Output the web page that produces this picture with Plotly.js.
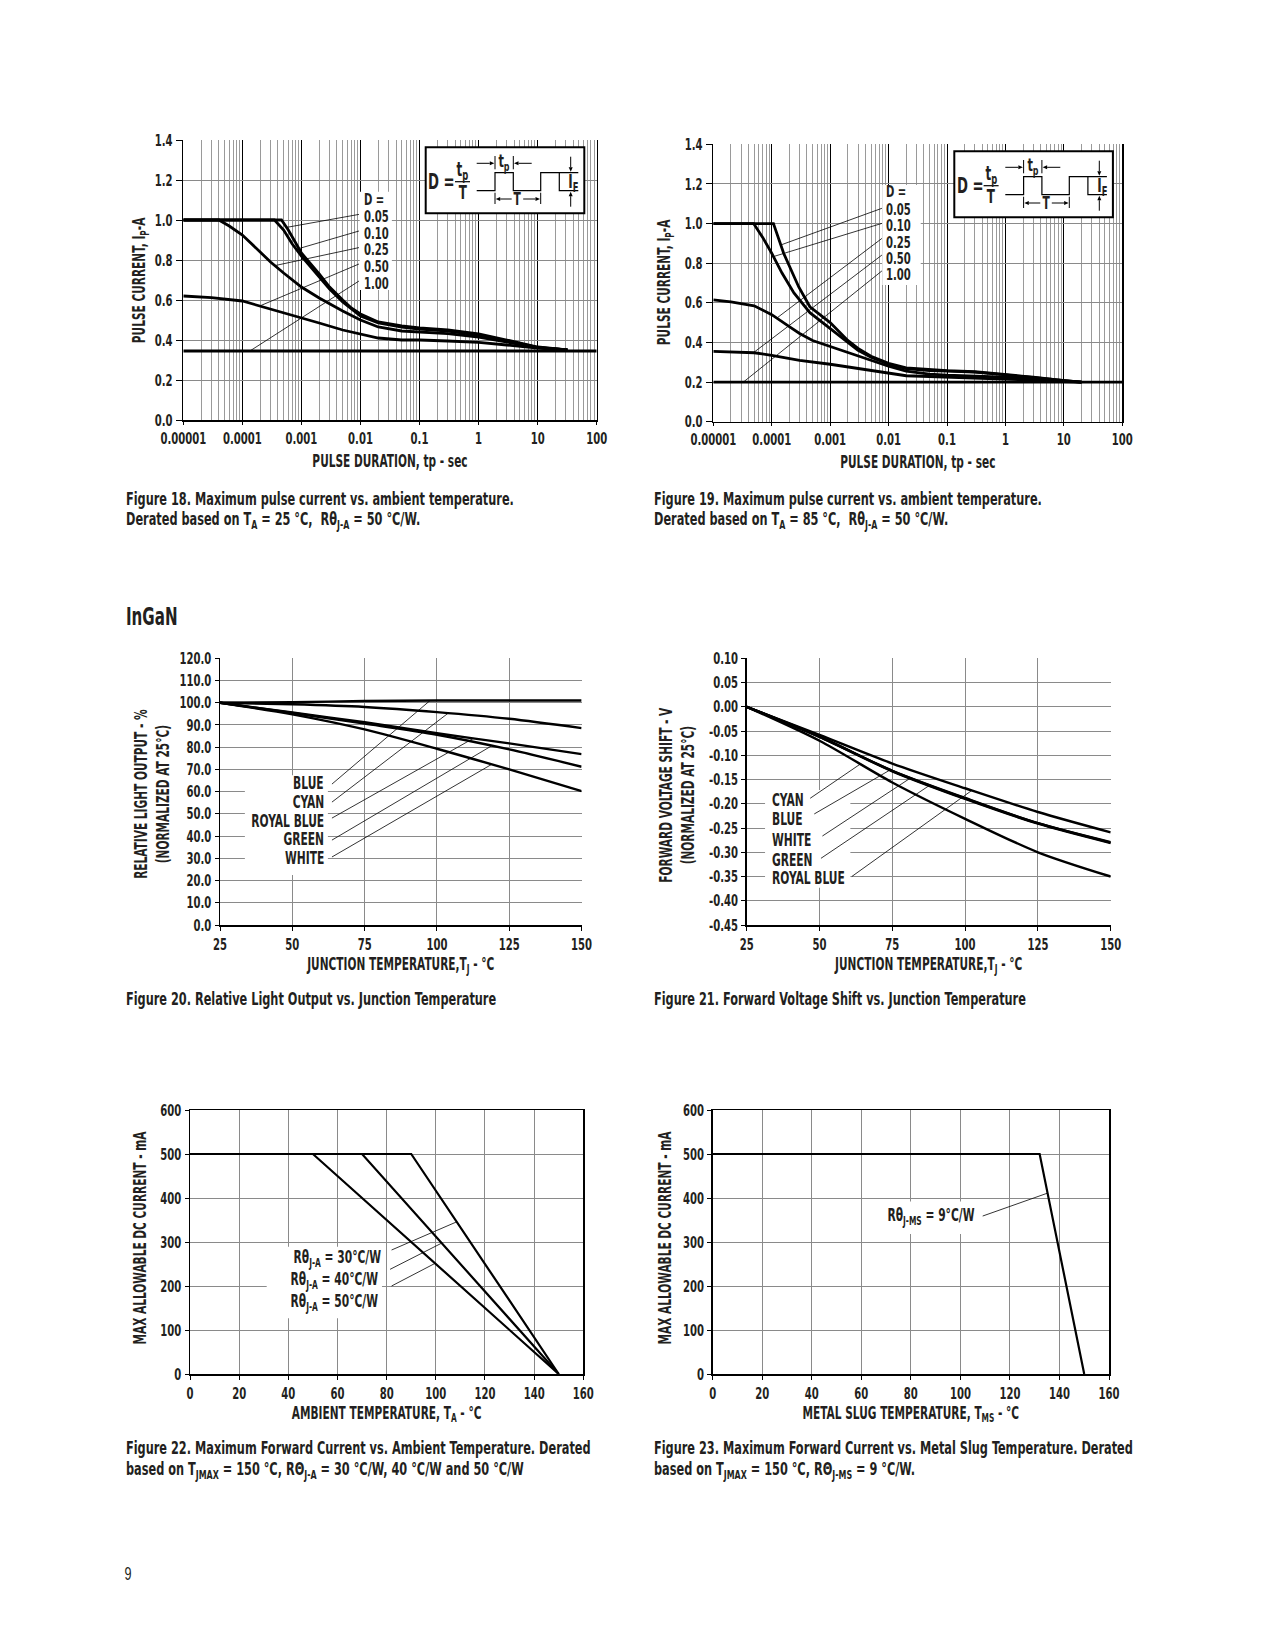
<!DOCTYPE html>
<html><head><meta charset="utf-8">
<script src="https://cdn.plot.ly/plotly-3.0.1.min.js"></script>
<style>html,body{margin:0;padding:0;background:#fff}#chart{width:1275px;height:1650px}</style>
</head><body><div id="chart"></div>
<script>
// ================= DATA =================
// Figure 18 – TA = 25 °C : pulse duration (s) -> max pulse current (A)
const f18_t_d005 = [1e-5, 1e-4, 4.6e-4, 6e-4, 1e-3, 2e-3, 3e-3, 5e-3, 7e-3, 1e-2, 2e-2, 5e-2, 0.1, 0.3, 1, 3, 10, 32];
const f18_i_d005 = [1.0, 1.0, 1.0, 0.95, 0.835, 0.73, 0.665, 0.60, 0.56, 0.53, 0.49, 0.47, 0.46, 0.45, 0.43, 0.40, 0.365, 0.35];
const f18_t_d010 = [1e-5, 1e-4, 3.5e-4, 5e-4, 7e-4, 1e-3, 2e-3, 3e-3, 5e-3, 1e-2, 2e-2, 5e-2, 0.1, 0.3, 1, 3, 10, 32];
const f18_i_d010 = [1.0, 1.0, 1.0, 0.95, 0.88, 0.82, 0.715, 0.655, 0.59, 0.52, 0.485, 0.465, 0.455, 0.445, 0.425, 0.395, 0.363, 0.35];
const f18_t_d025 = [1e-5, 4e-5, 6e-5, 1e-4, 2e-4, 3e-4, 5e-4, 1e-3, 2e-3, 3e-3, 5e-3, 1e-2, 2e-2, 5e-2, 0.1, 0.3, 1, 3, 10, 32];
const f18_i_d025 = [1.0, 1.0, 0.97, 0.925, 0.84, 0.79, 0.735, 0.665, 0.61, 0.58, 0.545, 0.50, 0.465, 0.445, 0.44, 0.432, 0.415, 0.39, 0.362, 0.35];
const f18_t_d050 = [1e-5, 3e-5, 1e-4, 2e-4, 5e-4, 1e-3, 2e-3, 5e-3, 1e-2, 2e-2, 5e-2, 0.1, 0.3, 1, 3, 10, 32];
const f18_i_d050 = [0.62, 0.612, 0.595, 0.57, 0.535, 0.51, 0.485, 0.45, 0.43, 0.41, 0.40, 0.40, 0.395, 0.388, 0.375, 0.36, 0.35];
const f18_t_d100 = [1e-5, 100];
const f18_i_d100 = [0.345, 0.345];

// Figure 19 – TA = 85 °C
const f19_t_d005 = [1e-5, 1.07e-4, 1.6e-4, 2.9e-4, 4.5e-4, 1e-3, 2e-3, 3e-3, 5e-3, 1e-2, 2e-2, 5e-2, 0.1, 0.3, 1, 3, 10, 20];
const f19_i_d005 = [1.0, 1.0, 0.85, 0.68, 0.58, 0.50, 0.41, 0.37, 0.33, 0.295, 0.272, 0.262, 0.258, 0.252, 0.238, 0.225, 0.207, 0.20];
const f19_t_d010 = [1e-5, 4.9e-5, 7e-5, 1e-4, 1.5e-4, 2.4e-4, 4.5e-4, 1e-3, 2e-3, 3e-3, 5e-3, 1e-2, 2e-2, 5e-2, 0.1, 0.3, 1, 3, 10, 20];
const f19_i_d010 = [1.0, 1.0, 0.93, 0.85, 0.75, 0.65, 0.55, 0.47, 0.40, 0.36, 0.325, 0.29, 0.268, 0.258, 0.255, 0.25, 0.236, 0.223, 0.206, 0.20];
const f19_t_d025 = [1e-5, 2e-5, 5e-5, 1e-4, 2e-4, 3e-4, 5e-4, 1e-3, 2e-3, 5e-3, 1e-2, 2e-2, 5e-2, 0.1, 0.3, 1, 3, 10, 20];
const f19_i_d025 = [0.615, 0.605, 0.585, 0.54, 0.48, 0.445, 0.41, 0.38, 0.35, 0.31, 0.28, 0.255, 0.24, 0.235, 0.23, 0.225, 0.215, 0.205, 0.20];
const f19_t_d050 = [1e-5, 5e-5, 1e-4, 3e-4, 1e-3, 3e-3, 1e-2, 2e-2, 5e-2, 0.1, 0.3, 1, 3, 10, 20];
const f19_i_d050 = [0.355, 0.348, 0.335, 0.31, 0.29, 0.27, 0.245, 0.232, 0.228, 0.225, 0.222, 0.218, 0.21, 0.203, 0.20];
const f19_t_d100 = [1e-5, 100];
const f19_i_d100 = [0.2, 0.2];

const dutyLabels = ['0.05', '0.10', '0.25', '0.50', '1.00'];
const logTickVals = [1e-5, 1e-4, 1e-3, 1e-2, 1e-1, 1, 10, 100];
const logTickText = ['0.00001', '0.0001', '0.001', '0.01', '0.1', '1', '10', '100'];
const pulseTickVals = [0, 0.2, 0.4, 0.6, 0.8, 1.0, 1.2, 1.4];
const pulseTickText = ['0.0', '0.2', '0.4', '0.6', '0.8', '1.0', '1.2', '1.4'];

// Figure 20 – relative light output (%) vs junction temperature
const tj = [25, 50, 75, 100, 125, 150];
const f20_blue  = [100, 100.2, 100.8, 101.0, 101.0, 101.0];
const f20_cyan  = [100, 99.3, 98.1, 95.8, 92.8, 88.6];
const f20_royal = [100, 95.6, 91.2, 86.3, 81.7, 76.9];
const f20_green = [100, 95.4, 90.6, 85.6, 79.0, 71.2];
const f20_white = [100, 94.8, 88.0, 79.3, 70.0, 60.2];
const f20_labels = ['BLUE', 'CYAN', 'ROYAL BLUE', 'GREEN', 'WHITE'];
const f20_yTicks = [0, 10, 20, 30, 40, 50, 60, 70, 80, 90, 100, 110, 120];
const tjTicks = [25, 50, 75, 100, 125, 150];

// Figure 21 – forward voltage shift (V) vs junction temperature
const f21_royal = [0, -0.058, -0.117, -0.168, -0.217, -0.259];
const f21_blue  = [0, -0.062, -0.132, -0.189, -0.240, -0.280];
const f21_white = [0, -0.062, -0.133, -0.190, -0.241, -0.281];
const f21_green = [0, -0.061, -0.132, -0.188, -0.240, -0.279];
const f21_cyan  = [0, -0.070, -0.156, -0.231, -0.300, -0.350];
const f21_labels = ['CYAN', 'BLUE', 'WHITE', 'GREEN', 'ROYAL BLUE'];
const f21_yTicks = [0.10, 0.05, 0, -0.05, -0.10, -0.15, -0.20, -0.25, -0.30, -0.35, -0.40, -0.45];
const f21_yText  = ['0.10', '0.05', '0.00', '-0.05', '-0.10', '-0.15', '-0.20', '-0.25', '-0.30', '-0.35', '-0.40', '-0.45'];

// Figure 22 – max DC current (mA) vs ambient temperature
const f22_t_r30 = [0, 90, 150];  const f22_i_r30 = [500, 500, 0];
const f22_t_r40 = [0, 70, 150];  const f22_i_r40 = [500, 500, 0];
const f22_t_r50 = [0, 50, 150];  const f22_i_r50 = [500, 500, 0];
const f22_labels = ['Rθ<sub>J-A</sub> = 30°C/W', 'Rθ<sub>J-A</sub> = 40°C/W', 'Rθ<sub>J-A</sub> = 50°C/W'];

// Figure 23 – max DC current (mA) vs metal slug temperature
const f23_t = [0, 132, 150];  const f23_i = [500, 500, 0];
const f23_label = 'Rθ<sub>J-MS</sub> = 9°C/W';

// ================= STYLE / HELPERS =================
const W = 1275, H = 1650;
const PX = x => x / W, PY = y => 1 - y / H;
const FONT = "'Liberation Sans Narrow', 'DejaVu Sans Condensed', 'Liberation Sans', sans-serif";
const TXT = '#231f20', GRID = '#8a8a8a';
const CONDENSE = 0.70;   // horizontal squeeze to mimic a condensed face
const TICK = 16, AXT = 16.8, LAB = 17, CAP = 18;
const fnt = (s, w) => ({family: FONT, size: s, color: TXT, weight: w || 'bold'});

function interp(xs, ys, x, log) {
  const f = log ? Math.log10 : (v => v);
  for (let i = 0; i < xs.length - 1; i++) {
    if (x >= xs[i] && x <= xs[i + 1]) {
      const t = (f(x) - f(xs[i])) / (f(xs[i + 1]) - f(xs[i]));
      return ys[i] + t * (ys[i + 1] - ys[i]);
    }
  }
  return ys[ys.length - 1];
}

const minorLog = [];
for (let d = -5; d < 2; d++) for (let k = 2; k <= 9; k++) minorLog.push(k * Math.pow(10, d));

function linAxis(dom, extra) {
  return Object.assign({
    domain: dom, showgrid: true, gridcolor: GRID, gridwidth: 1, zeroline: false,
    showline: true, linecolor: '#000', linewidth: 1.5, ticks: 'outside', ticklen: 4,
    tickcolor: '#000', tickwidth: 1, tickfont: fnt(TICK), tickangle: 0, fixedrange: true, layer: 'above traces'
  }, extra);
}

const traces = [];
function line(x, y, xa, ya, w, shape) {
  traces.push({x: x, y: y, xaxis: xa, yaxis: ya, type: 'scatter', mode: 'lines',
    line: {color: '#000', width: w, shape: shape || 'linear', smoothing: 0.8},
    showlegend: false, hoverinfo: 'skip'});
}

// Fig 18
line(f18_t_d100, f18_i_d100, 'x', 'y', 2.8);
line(f18_t_d050, f18_i_d050, 'x', 'y', 2.8);
line(f18_t_d025, f18_i_d025, 'x', 'y', 2.8);
line(f18_t_d010, f18_i_d010, 'x', 'y', 2.8);
line(f18_t_d005, f18_i_d005, 'x', 'y', 2.8);
// Fig 19
line(f19_t_d100, f19_i_d100, 'x2', 'y2', 2.8);
line(f19_t_d050, f19_i_d050, 'x2', 'y2', 2.8);
line(f19_t_d025, f19_i_d025, 'x2', 'y2', 2.8);
line(f19_t_d010, f19_i_d010, 'x2', 'y2', 2.8);
line(f19_t_d005, f19_i_d005, 'x2', 'y2', 2.8);
// Fig 20
[f20_blue, f20_cyan, f20_royal, f20_green, f20_white].forEach(s => line(tj, s, 'x3', 'y3', 2.4, 'spline'));
// Fig 21
[f21_royal, f21_blue, f21_white, f21_green, f21_cyan].forEach(s => line(tj, s, 'x4', 'y4', 2.4, 'spline'));
// Fig 22
line(f22_t_r30, f22_i_r30, 'x5', 'y5', 2.2);
line(f22_t_r40, f22_i_r40, 'x5', 'y5', 2.2);
line(f22_t_r50, f22_i_r50, 'x5', 'y5', 2.2);
// Fig 23
line(f23_t, f23_i, 'x6', 'y6', 2.2);

const shapes = [], annotations = [];
function whiteBox(xr, yr, x0, x1, y0, y1) {
  shapes.push({type: 'rect', xref: xr, yref: yr, x0: x0, x1: x1, y0: y0, y1: y1,
    fillcolor: '#fff', line: {width: 0}, layer: 'above'});
}
function leader(xr, yr, x0, y0, x1, y1) {
  shapes.push({type: 'line', xref: xr, yref: yr, x0: x0, y0: y0, x1: x1, y1: y1,
    line: {color: '#000', width: 0.8}, layer: 'above'});
}
function label(xr, yr, x, y, text, anchor, size) {
  annotations.push({xref: xr, yref: yr, x: x, y: y, text: text, showarrow: false,
    xanchor: anchor, align: anchor, yanchor: 'middle', borderpad: 0, font: fnt(size || LAB)});
}
function ptext(px, py, text, size, anchor, weight, fam, angle) {
  anchor = anchor || 'left';
  annotations.push({xref: 'paper', yref: 'paper', x: PX(px), y: PY(py), text: text, showarrow: false,
    xanchor: anchor, align: anchor, yanchor: 'middle', textangle: angle || 0, borderpad: 0,
    font: {family: fam || FONT, size: size, color: TXT, weight: weight || 'bold'}});
}
function pline(x1, y1, x2, y2, w) {
  shapes.push({type: 'line', xref: 'paper', yref: 'paper', x0: PX(x1), y0: PY(y1), x1: PX(x2), y1: PY(y2),
    line: {color: '#000', width: w || 1}, layer: 'above'});
}
function parrow(x1, y1, x2, y2) {
  const dx = x2 - x1, dy = y2 - y1, L = Math.hypot(dx, dy), ux = dx / L, uy = dy / L;
  const hl = 4.5, hw = 2;
  const bx = x2 - ux * hl, by = y2 - uy * hl;
  pline(x1, y1, bx, by, 1);
  shapes.push({type: 'path', xref: 'paper', yref: 'paper',
    path: `M${PX(x2)},${PY(y2)} L${PX(bx - uy * hw)},${PY(by + ux * hw)} L${PX(bx + uy * hw)},${PY(by - ux * hw)} Z`,
    fillcolor: '#000', line: {width: 0}, layer: 'above'});
}
function pulseLegend(ox, oy) {
  shapes.push({type: 'rect', xref: 'paper', yref: 'paper', x0: PX(ox), x1: PX(ox + 158.6), y0: PY(oy + 66), y1: PY(oy),
    fillcolor: '#fff', line: {color: '#000', width: 2}, layer: 'above'});
  const P = (x, y) => `${PX(ox + x)},${PY(oy + y)}`;
  shapes.push({type: 'path', xref: 'paper', yref: 'paper', layer: 'above', line: {color: '#000', width: 1.2},
    path: `M${P(51, 43.4)} L${P(69.3, 43.4)} L${P(69.3, 25.4)} L${P(87.6, 25.4)} L${P(87.6, 43.4)} L${P(115, 43.4)} L${P(115, 25.4)} L${P(133.6, 25.4)} L${P(133.6, 43.4)} L${P(152.6, 43.4)} M${P(133.6, 25.4)} L${P(152.6, 25.4)}`});
  pline(ox + 29.3, oy + 34.4, ox + 44.3, oy + 34.4, 1.2);
  pline(ox + 69.3, oy + 8.7, ox + 69.3, oy + 22, 1);
  pline(ox + 87.6, oy + 8.7, ox + 87.6, oy + 22, 1);
  parrow(ox + 51, oy + 16, ox + 68.6, oy + 16);
  parrow(ox + 106, oy + 16, ox + 88.3, oy + 16);
  pline(ox + 69.3, oy + 45.4, ox + 69.3, oy + 56.7, 1);
  pline(ox + 115, oy + 45.4, ox + 115, oy + 56.7, 1);
  parrow(ox + 86, oy + 51.7, ox + 70, oy + 51.7);
  parrow(ox + 97.5, oy + 51.7, ox + 114.3, oy + 51.7);
  parrow(ox + 145, oy + 9.4, ox + 145, oy + 24.4);
  parrow(ox + 145, oy + 59.4, ox + 145, oy + 44.4);
  ptext(ox + 1.8, oy + 34.4, 'D =', 21);
  ptext(ox + 36.8, oy + 23.5, 't<sub>p</sub>', 19, 'center');
  ptext(ox + 36.8, oy + 45, 'T', 19, 'center');
  ptext(ox + 78.4, oy + 14.5, 't<sub>p</sub>', 18, 'center');
  ptext(ox + 91.8, oy + 51.7, 'T', 17, 'center');
  ptext(ox + 148, oy + 35.4, 'I<sub>F</sub>', 19, 'center');
}

// ---- Fig 18 labels ----
whiteBox('x', 'y', 0.0097, 0.034, 0.65, 1.1415);
const f18Curves = [[f18_t_d005, f18_i_d005], [f18_t_d010, f18_i_d010], [f18_t_d025, f18_i_d025], [f18_t_d050, f18_i_d050], [f18_t_d100, f18_i_d100]];
const f18LeadStartY = [1.028, 0.945, 0.862, 0.78, 0.695];
const f18LeadEndX = [5.6e-4, 8.2e-4, 3.55e-4, 1.98e-4, 1.34e-4];
const f18LabY = [1.0165, 0.9335, 0.8535, 0.77, 0.6835];
label('x', 'y', -1.958, 1.1035, 'D =', 'left', 16);
dutyLabels.forEach((t, i) => {
  const c = f18Curves[i];
  leader('x', 'y', 0.00943, f18LeadStartY[i], f18LeadEndX[i], interp(c[0], c[1], f18LeadEndX[i], true));
  label('x', 'y', -1.958, f18LabY[i], t, 'left', 16);
});
pulseLegend(425.7, 147.3);

// ---- Fig 19 labels ----
whiteBox('x2', 'y2', 0.0078, 0.0355, 0.69, 1.195);
const f19Curves = [[f19_t_d005, f19_i_d005], [f19_t_d010, f19_i_d010], [f19_t_d025, f19_i_d025], [f19_t_d050, f19_i_d050], [f19_t_d100, f19_i_d100]];
const f19LeadStartY = [1.077, 1.001, 0.925, 0.841, 0.761];
const f19LeadEndX = [1.43e-4, 1.07e-4, 1.22e-4, 4.85e-5, 3.27e-5];
const f19LabY = [1.069, 0.988, 0.904, 0.825, 0.744];
label('x2', 'y2', -2.057, 1.16, 'D =', 'left', 16);
dutyLabels.forEach((t, i) => {
  const c = f19Curves[i];
  leader('x2', 'y2', 0.00769, f19LeadStartY[i], f19LeadEndX[i], interp(c[0], c[1], f19LeadEndX[i], true));
  label('x2', 'y2', -2.057, f19LabY[i], t, 'left', 16);
});
pulseLegend(954.3, 151.3);

// ---- Fig 20 labels ----
whiteBox('x3', 'y3', 33.6, 62.3, 22.5, 67.4);
const f20Curves = [f20_blue, f20_cyan, f20_royal, f20_green, f20_white];
const f20LabY = [63.8, 55.3, 46.7, 38.7, 30.1];
const f20LeadStartY = [63.4, 55.3, 48.1, 38.2, 30.6];
const f20LeadEndX = [97.6, 103.9, 112.6, 118.9, 118.9];
f20_labels.forEach((t, i) => {
  leader('x3', 'y3', 63.7, f20LeadStartY[i], f20LeadEndX[i], interp(tj, f20Curves[i], f20LeadEndX[i]));
  label('x3', 'y3', 61.3, f20LabY[i], t, 'right');
});

// ---- Fig 21 labels ----
whiteBox('x4', 'y4', 31.3, 60.6, -0.373, -0.1716);
const f21Curves = [f21_cyan, f21_blue, f21_white, f21_green, f21_royal];
const f21LabY = [-0.192, -0.2314, -0.2747, -0.3157, -0.3537];
const f21LeadStart = [[46.8, -0.1887], [48.2, -0.221], [51.0, -0.2665], [50.5, -0.3125], [61.1, -0.350]];
const f21LeadEndX = [64, 74.3, 81.2, 88, 102.3];
f21_labels.forEach((t, i) => {
  leader('x4', 'y4', f21LeadStart[i][0], f21LeadStart[i][1], f21LeadEndX[i], interp(tj, f21Curves[i], f21LeadEndX[i]));
  label('x4', 'y4', 33.3, f21LabY[i], t, 'left');
});

// ---- Fig 22 labels ----
whiteBox('x5', 'y5', 31.2, 78.1, 126.5, 289);
const f22Curves = [[f22_t_r30, f22_i_r30], [f22_t_r40, f22_i_r40], [f22_t_r50, f22_i_r50]];
const f22LabX = [78.05, 76.7, 76.7], f22LabY = [263, 212, 163.6];
const f22LeadStart = [[82.0, 281.8], [81.4, 237.9], [82.0, 200]];
const f22LeadEndX = [108.5, 102.4, 99.7];
f22_labels.forEach((t, i) => {
  const c = f22Curves[i];
  leader('x5', 'y5', f22LeadStart[i][0], f22LeadStart[i][1], f22LeadEndX[i], interp(c[0], c[1], f22LeadEndX[i]));
  label('x5', 'y5', f22LabX[i], f22LabY[i], t, 'right');
});

// ---- Fig 23 label ----
whiteBox('x6', 'y6', 63.5, 108, 318, 392);
leader('x6', 'y6', 109, 359, 135.2, interp(f23_t, f23_i, 135.2));
label('x6', 'y6', 106.5, 357.5, f23_label, 'right');

// ---- y-axis titles (rotated) ----
ptext(140, 281, 'PULSE CURRENT, I<sub>P</sub>-A', AXT, 'center', 'bold', null, -90);
ptext(665, 283, 'PULSE CURRENT, I<sub>P</sub>-A', AXT, 'center', 'bold', null, -90);
ptext(152, 794, 'RELATIVE LIGHT OUTPUT - %<br>(NORMALIZED AT 25°C)', AXT, 'center', 'bold', null, -90);
ptext(677, 795, 'FORWARD VOLTAGE SHIFT - V<br>(NORMALIZED AT 25°C)', AXT, 'center', 'bold', null, -90);
ptext(140, 1238, 'MAX ALLOWABLE DC CURRENT - mA', AXT, 'center', 'bold', null, -90);
ptext(665, 1238, 'MAX ALLOWABLE DC CURRENT - mA', AXT, 'center', 'bold', null, -90);

// ---- page texts ----
ptext(125, 617, 'InGaN', 24);
ptext(125, 498.3, 'Figure 18. Maximum pulse current vs. ambient temperature.', CAP);
ptext(125, 520, 'Derated based on T<sub>A</sub> = 25 °C,  Rθ<sub>J-A</sub> = 50 °C/W.', CAP);
ptext(653, 498.3, 'Figure 19. Maximum pulse current vs. ambient temperature.', CAP);
ptext(653, 520, 'Derated based on T<sub>A</sub> = 85 °C,  Rθ<sub>J-A</sub> = 50 °C/W.', CAP);
ptext(125, 998, 'Figure 20. Relative Light Output vs. Junction Temperature', CAP);
ptext(653, 998, 'Figure 21. Forward Voltage Shift vs. Junction Temperature', CAP);
ptext(125, 1447, 'Figure 22. Maximum Forward Current vs. Ambient Temperature. Derated', CAP);
ptext(125, 1470, 'based on T<sub>JMAX</sub> = 150 °C, RΘ<sub>J-A</sub> = 30 °C/W, 40 °C/W and 50 °C/W', CAP);
ptext(653, 1447, 'Figure 23. Maximum Forward Current vs. Metal Slug Temperature. Derated', CAP);
ptext(653, 1470, 'based on T<sub>JMAX</sub> = 150 °C, RΘ<sub>J-MS</sub> = 9 °C/W.', CAP);
ptext(128, 1574, '9', 18, 'center', 'normal', "'Liberation Sans', sans-serif");

// ================= LAYOUT =================
const dx = (a, b) => [a / W, b / W];
const dy = (t, b) => [1 - b / H, 1 - t / H];
const ttl = (t, s) => ({text: t, font: fnt(AXT), standoff: s});

function logAxis(dom) {
  return linAxis(dom, {type: 'log', range: [-5, 2], tickmode: 'array', tickvals: logTickVals, ticktext: logTickText,
    gridcolor: '#000', ticklen: 3,
    minor: {tickmode: 'array', tickvals: minorLog, showgrid: true, gridcolor: '#9a9a9a', gridwidth: 1, ticks: ''}});
}

const layout = {
  width: W, height: H, margin: {l: 0, r: 0, t: 0, b: 0},
  paper_bgcolor: '#fff', plot_bgcolor: '#fff', showlegend: false,
  font: fnt(TICK),
  xaxis: Object.assign(logAxis(dx(183.3, 596.7)), {anchor: 'y', title: ttl('PULSE DURATION, tp - sec', 8)}),
  yaxis: linAxis(dy(140, 420), {anchor: 'x', range: [0, 1.4], tickmode: 'array', tickvals: pulseTickVals, ticktext: pulseTickText,
    ticklen: 6, mirror: true}),
  xaxis2: Object.assign(logAxis(dx(713.3, 1122.3)), {anchor: 'y2', title: ttl('PULSE DURATION, tp - sec', 8)}),
  yaxis2: linAxis(dy(144.3, 421.7), {anchor: 'x2', range: [0, 1.4], tickmode: 'array', tickvals: pulseTickVals, ticktext: pulseTickText,
    ticklen: 6, mirror: true}),
  xaxis3: linAxis(dx(220, 581.6), {anchor: 'y3', range: [25, 150], tickmode: 'array', tickvals: tjTicks,
    title: ttl('JUNCTION TEMPERATURE,T<sub>J</sub> - °C', 2)}),
  yaxis3: linAxis(dy(658.3, 925), {anchor: 'x3', range: [0, 120], tickmode: 'array', tickvals: f20_yTicks, tickformat: '.1f'}),
  xaxis4: linAxis(dx(746.7, 1110.7), {anchor: 'y4', range: [25, 150], tickmode: 'array', tickvals: tjTicks,
    title: ttl('JUNCTION TEMPERATURE,T<sub>J</sub> - °C', 2)}),
  yaxis4: linAxis(dy(658.3, 925), {anchor: 'x4', range: [-0.45, 0.10], tickmode: 'array', tickvals: f21_yTicks, ticktext: f21_yText}),
  xaxis5: linAxis(dx(190, 583.3), {anchor: 'y5', range: [0, 160], dtick: 20, mirror: true,
    title: ttl('AMBIENT TEMPERATURE, T<sub>A</sub> - °C', 2)}),
  yaxis5: linAxis(dy(1110, 1374), {anchor: 'x5', range: [0, 600], dtick: 100, mirror: true}),
  xaxis6: linAxis(dx(712.7, 1109), {anchor: 'y6', range: [0, 160], dtick: 20, mirror: true,
    title: ttl('METAL SLUG TEMPERATURE, T<sub>MS</sub> - °C', 2)}),
  yaxis6: linAxis(dy(1110, 1374), {anchor: 'x6', range: [0, 600], dtick: 100, mirror: true}),
  shapes: shapes,
  annotations: annotations
};

// squeeze every text horizontally about its own anchor (no narrow bold face is installed)
function condense(gd) {
  gd.querySelectorAll('svg text').forEach(t => {
    if (t.getAttribute('data-cond')) return;
    const x = parseFloat(t.getAttribute('x')) || 0;
    const tr = t.getAttribute('transform') || '';
    t.setAttribute('transform', (tr + ` translate(${x},0) scale(${CONDENSE},1) translate(${-x},0)`).trim());
    t.setAttribute('data-cond', '1');
  });
}

Plotly.newPlot('chart', traces, layout, {staticPlot: true, displayModeBar: false}).then(condense);
</script>
</body></html>
